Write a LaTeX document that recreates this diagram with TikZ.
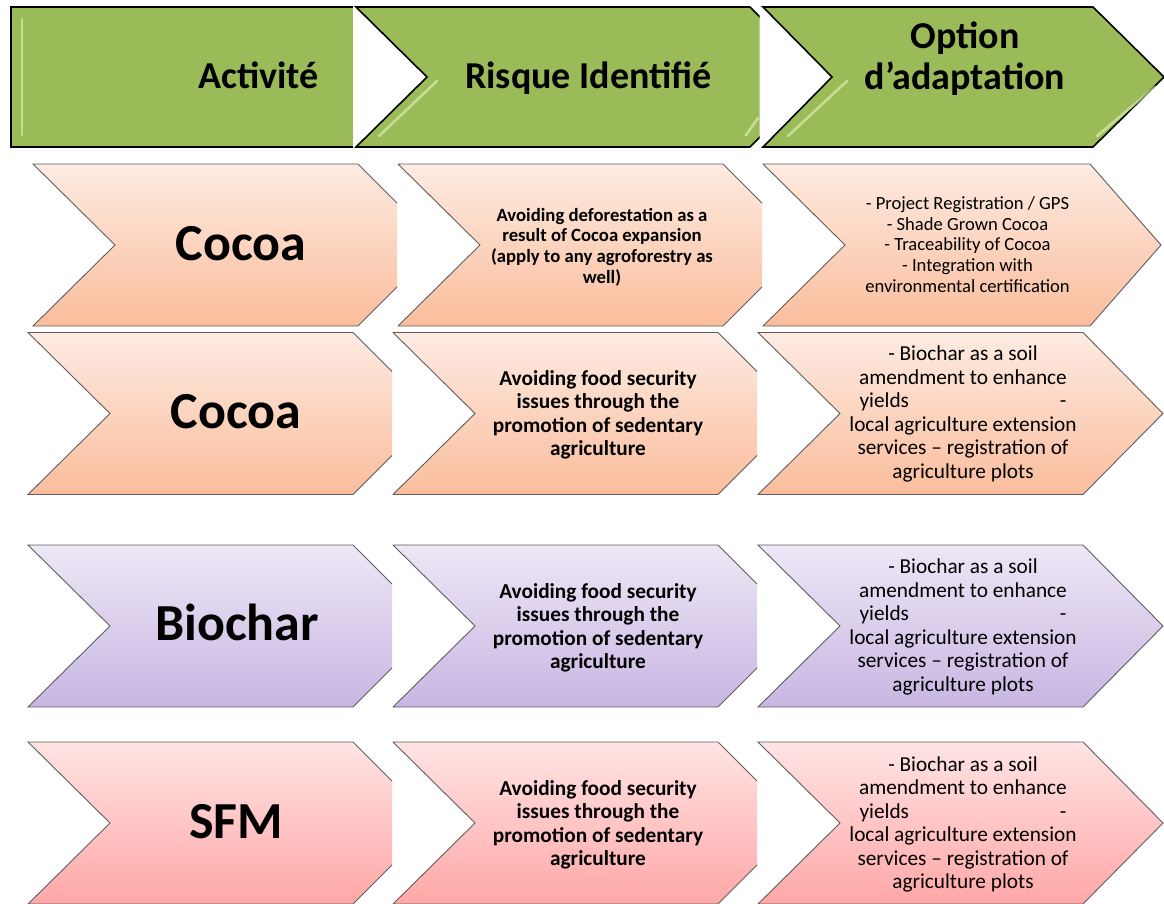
\documentclass[tikz,border=0pt]{standalone}
\usepackage{fontspec}
\setmainfont{Carlito}
\definecolor{hdrgreen}{HTML}{9BBB59}
\definecolor{hdrlight}{HTML}{E6F5B8}
\definecolor{peachT}{HTML}{FDEBE2}
\definecolor{peachB}{HTML}{FABD9C}
\definecolor{lavT}{HTML}{EDE7F6}
\definecolor{lavB}{HTML}{C8B6E2}
\definecolor{pinkT}{HTML}{FFE4E4}
\definecolor{pinkB}{HTML}{FFA7A7}
\definecolor{edgegray}{HTML}{5E5E5E}
\tikzset{
  hdrshape/.style={fill=hdrgreen, draw=black, line width=1.6pt, line join=miter},
  hilite/.style={draw=hdrlight, line width=2.6pt, line cap=round, opacity=0.6},
  peachbox/.style={draw=edgegray, line width=0.9pt, top color=peachT, bottom color=peachB},
  lavbox/.style={draw=edgegray, line width=0.9pt, top color=lavT, bottom color=lavB},
  pinkbox/.style={draw=edgegray, line width=0.9pt, top color=pinkT, bottom color=pinkB},
  hdrtxt/.style={inner sep=0pt, align=center, font=\fontsize{38}{41}\selectfont\bfseries},
  bigtxt/.style={inner sep=0pt, anchor=base, font=\fontsize{52}{60}\selectfont\bfseries},
  risktxt/.style={inner sep=0pt, align=center, font=\fontsize{21.3}{23.4}\selectfont\bfseries},
  risksmall/.style={inner sep=0pt, align=center, font=\fontsize{18.7}{20.7}\selectfont\bfseries},
  opttxt/.style={inner sep=0pt, align=center, font=\fontsize{21.3}{23.5}\selectfont},
  optsmall/.style={inner sep=0pt, align=center, font=\fontsize{18.6}{20.7}\selectfont},
}
\newcommand{\optlines}{\strut- Biochar as a soil\\ amendment to enhance\\ \makebox[207pt][s]{yields\hfill-}\\ local agriculture extension\\ services -- registration of\\ agriculture plots\strut}
\newcommand{\risklines}{\strut Avoiding food security\\ issues through the\\ promotion of sedentary\\ agriculture\strut}
\begin{document}
\begin{tikzpicture}[x=1pt,y=-1pt]
\useasboundingbox (0,0) rectangle (1164,903);

% ---------- header ----------
\fill[hdrgreen] (11,7) rectangle (353,147);
\draw[black, line width=1.6pt] (353,7) -- (11,7) -- (11,147) -- (353,147);
\draw[hilite] (22,19) -- (22,135);
\begin{scope}
  \clip (354,0) rectangle (759.5,160);
  \path[hdrshape] (356,7) -- (750,7) -- (820,77) -- (750,147) -- (356,147) -- (427,77) -- cycle;
  \draw[hilite] (437,81) -- (379,136);
  \draw[hilite] (758,118) -- (746,135);
\end{scope}
\path[hdrshape] (763,7) -- (1093,7) -- (1164,77) -- (1093,147) -- (763,147) -- (832,77) -- cycle;
\draw[hilite] (847,81) -- (788,136);
\draw[hilite] (1155,87) -- (1097,136);

\node[hdrtxt, anchor=base] (h1) at (258.5,88.5) {Activité};
\node[hdrtxt, anchor=base] (h2) at (588.5,88.5) {Risque Identifié};
\node[hdrtxt] (h3) at (965,61) {\strut Option\\ d’adaptation\strut};

% ---------- row 1 ----------
\begin{scope}
  \clip (0,150) rectangle (397,330);
  \path[peachbox] (33,164) -- (358,164) -- (439,245) -- (358,326) -- (33,326) -- (115,245) -- cycle;
\end{scope}
\begin{scope}
  \clip (397.5,150) rectangle (762,330);
  \path[peachbox] (398,164) -- (723,164) -- (804,245) -- (723,326) -- (398,326) -- (480,245) -- cycle;
\end{scope}
\path[peachbox] (763,164) -- (1090,164) -- (1161,245) -- (1090,326) -- (763,326) -- (845,245) -- cycle;

\node[bigtxt] (a1) at (241,260) {Cocoa};
\node[risksmall] (r1) at (602,248) {\strut Avoiding deforestation as a\\ result of Cocoa expansion\\ (apply to any agroforestry as\\ well)\strut};
\node[optsmall] (o1) at (967.5,246.6) {\strut- Project Registration / GPS\\ - Shade Grown Cocoa\\ - Traceability of Cocoa\\ - Integration with\\ environmental certification\strut};

% ---------- rows 2-4 ----------
\foreach \yt/\st in {332.5/peachbox, 545/lavbox, 742/pinkbox}{
  \pgfmathsetmacro{\ym}{\yt+81}
  \pgfmathsetmacro{\yb}{\yt+162}
  \begin{scope}
    \clip (0,\yt-10) rectangle (392,\yb+5);
    \path[\st] (28,\yt) -- (353,\yt) -- (434,\ym) -- (353,\yb) -- (28,\yb) -- (110,\ym) -- cycle;
  \end{scope}
  \begin{scope}
    \clip (392.5,\yt-10) rectangle (757,\yb+5);
    \path[\st] (393,\yt) -- (718,\yt) -- (799,\ym) -- (718,\yb) -- (393,\yb) -- (475,\ym) -- cycle;
  \end{scope}
  \path[\st] (758,\yt) -- (1083,\yt) -- (1163,\ym) -- (1083,\yb) -- (758,\yb) -- (840,\ym) -- cycle;
}

\node[bigtxt] (a2) at (236,428) {Cocoa};
\node[risktxt] (r2) at (598,416) {\risklines};
\node[opttxt] (o2) at (963,415) {\optlines};

\node[bigtxt] (a3) at (237,640) {Biochar};
\node[risktxt] (r3) at (598,629) {\risklines};
\node[opttxt] (o3) at (963,628) {\optlines};

\node[bigtxt] (a4) at (236,838) {SFM};
\node[risktxt] (r4) at (598,826) {\risklines};
\node[opttxt] (o4) at (963,825.5) {\optlines};
\end{tikzpicture}
\end{document}
